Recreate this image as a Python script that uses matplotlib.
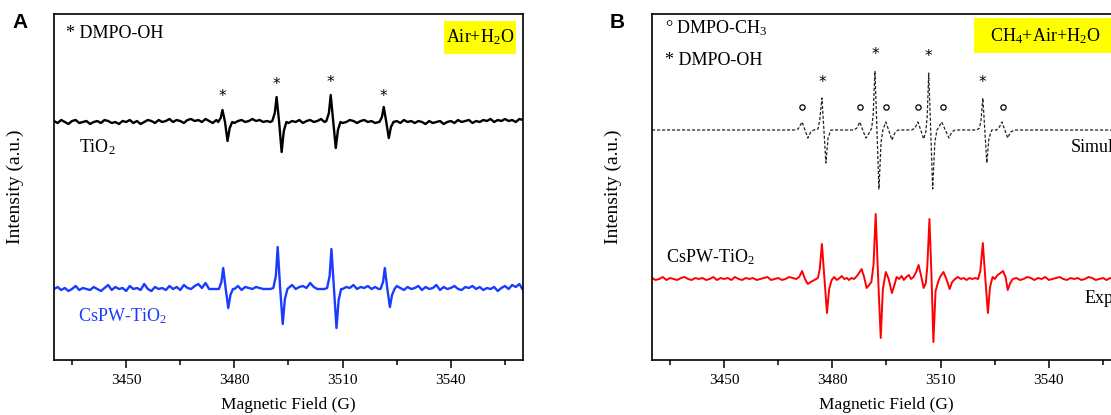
import numpy as np
import matplotlib
matplotlib.use("Agg")
import matplotlib.pyplot as plt
from matplotlib.patches import Rectangle

plt.rcParams['font.family'] = ['Liberation Serif', 'DejaVu Serif']
plt.rcParams['mathtext.fontset'] = 'custom'
plt.rcParams['mathtext.rm'] = 'Liberation Serif'
plt.rcParams['mathtext.it'] = 'Liberation Serif:italic'

# ---------------- data (intensity in a.u., relative to each trace's baseline) ----------------
field_grid = np.arange(3430, 3561)  # 1 G sampling of the baseline noise

# panel A, TiO2 (black)
tio2_noise = [
    1, -1, 2, 0, -2, 1, 2, -1, 0, 1,
    -2, 0, 1, -1, 2, 1, -1, 0, -2, 1,
    0, 2, -1, 1, -2, 0, 2, 1, -1, 2,
    0, 1, 3, 0, 2, 1, -1, 2, 3, 1,
    2, 0, 3, 1, -1, 2, 0, 0, 0, 0,
    -1, 1, 2, 0, 1, 3, 1, 2, 0, 1,
    0, 0, 0, 0, 0, -1, 1, 0, 2, -1,
    1, 2, 0, 1, 3, 0, 0, 0, 0, 0,
    -1, 0, 2, 1, -1, 1, 2, 0, 1, -1,
    0, 0, 0, 0, 0, 1, -1, 2, 0, 1,
    -1, 1, 0, -2, 1, -1, 0, 1, -2, 0,
    1, -1, 2, 0, 1, 2, -1, 1, 0, 2,
    1, 3, 0, 2, 1, 3, 1, 2, 0, 3,
    2]
tio2_peak_field = [3475.5, 3476.2, 3476.7, 3477.4, 3478.1, 3478.7, 3479.4,
                   3490.5, 3491.2, 3491.7, 3492.4, 3493.1, 3493.7, 3494.4,
                   3505.5, 3506.2, 3506.7, 3507.4, 3508.1, 3508.7, 3509.4,
                   3520.2, 3520.9, 3521.4, 3522.1, 3522.8, 3523.4, 3524.1]
tio2_peak_int = [0, 4, 12, 0, -19, -6, 0,
                 1, 9, 25, 0, -30, -9, 0,
                 1, 9, 27, 0, -26, -8, 0,
                 0, 5, 15, 0, -16, -5, 0]

# panel A, CsPW-TiO2 (blue)
cspw_a_noise = [
    0, 2, -1, 1, -2, 0, 3, -1, 1, 0,
    -1, 2, 0, -2, 1, 4, -1, 2, 0, 1,
    -2, 3, 0, 1, -1, 5, 0, -2, 2, 0,
    1, -1, 3, 0, 2, -1, 4, 1, 0, 3,
    5, 1, 6, 0, 0, 0, 0, 0, -2, 2,
    0, 3, -1, 2, 1, 0, 2, 1, 0, 0,
    0, 0, 0, -1, 2, 1, 4, 0, 2, 3,
    1, 6, 2, 0, 0, 0, 0, 0, -2, 1,
    0, 2, 1, 4, 0, 2, 1, 3, 0, 2,
    0, 0, 0, 0, 0, 3, 1, -1, 2, 0,
    1, 3, -1, 2, 0, 1, 4, -1, 2, 0,
    1, 3, 0, -1, 2, 1, 3, 0, 2, -1,
    1, 0, 2, -2, 1, 3, 0, 4, 2, 5,
    -1]
cspw_a_peak_field = [3475.7, 3476.4, 3476.9, 3477.6, 3478.3, 3478.9, 3479.6,
                     3490.8, 3491.5, 3492.0, 3492.7, 3493.4, 3494.0, 3494.7,
                     3505.7, 3506.4, 3506.9, 3507.6, 3508.3, 3508.9, 3509.6,
                     3520.5, 3521.2, 3521.7, 3522.4, 3523.1, 3523.7, 3524.4]
cspw_a_peak_int = [0, 7, 21, 0, -19, -6, 0,
                   1, 13, 42, 0, -35, -10, 0,
                   1, 13, 40, 0, -39, -11, 0,
                   0, 7, 21, 0, -18, -6, 0]

# panel B, simulated spectrum (dashed)
sim_field = [3430, 3469.5, 3470.5, 3471.6, 3472.4, 3473.2, 3474.0, 3474.8,
             3476.0, 3476.5, 3477.1, 3477.65, 3478.2, 3478.8, 3479.6,
             3486.0, 3486.8, 3487.6, 3488.4, 3489.3, 3490.2, 3490.9,
             3491.3, 3491.8, 3492.35, 3492.9, 3493.5, 3494.0, 3494.8,
             3495.6, 3496.5, 3497.3, 3498.2,
             3502.0, 3502.9, 3503.7, 3504.5, 3505.3, 3505.9,
             3506.3, 3506.7, 3507.25, 3507.8, 3508.4, 3509.0, 3510.3,
             3511.3, 3512.3, 3513.1, 3514.0,
             3520.0, 3520.8, 3521.2, 3521.7, 3522.25, 3522.8, 3523.4, 3524.2,
             3525.5, 3526.3, 3527.0, 3527.8, 3528.6, 3529.4, 3530.5, 3560]
sim_int = [0, 0, 1, 8, 0, -8, -2, 0,
           1, 10, 32, 0, -33, -8, 0,
           0, 2, 8, 0, -8, -3, 2,
           15, 59, 0, -59, -12, 0, 8,
           0, -10, -3, 0,
           0, 2, 8, 0, -9, -2,
           15, 57, 0, -59, -12, 0, 8,
           0, -8, -2, 0,
           0, 2, 10, 32, 0, -33, -8, 0,
           0, 3, 8, 0, -8, -2, 0, 0]

# panel B, CsPW-TiO2 experimental (red)
cspw_b_noise = [
    1, -1, 0, 2, -1, 1, 0, -1, 1, 2,
    0, -1, 1, 0, 1, -1, 0, 2, -1, 1,
    0, 1, -1, 2, 0, -1, 1, 0, 1, -1,
    0, 1, 2, -1, 0, 1, -1, 0, 2, 1,
    0, 0, 0, 0, 0, 0, 0, 0, 0, 0,   # 3470-3529 covered by the peak block
    0, 0, 0, 0, 0, 0, 0, 0, 0, 0,
    0, 0, 0, 0, 0, 0, 0, 0, 0, 0,
    0, 0, 0, 0, 0, 0, 0, 0, 0, 0,
    0, 0, 0, 0, 0, 0, 0, 0, 0, 0,
    0, 0, 0, 0, 0, 0, 0, 0, 0, 0,
    0, 1, -1, 0, 2, 1, -1, 1, 0, 2,
    -1, 0, 1, 2, 0, -1, 1, 0, 1, -1,
    0, 2, 1, -1, 0, 1, -1, 1, 0, 1,
    -1]
cspw_b_peak_field = [3470.0, 3470.8, 3471.6, 3472.4, 3473.2, 3474.0, 3475.0,
                     3476.0, 3476.5, 3477.1, 3477.8, 3478.5, 3479.1, 3479.8,
                     3480.5, 3481.2, 3482.0, 3482.6, 3483.3, 3484.0, 3484.6,
                     3485.3, 3486.0, 3486.8, 3487.4, 3488.1, 3488.8, 3489.5,
                     3490.2, 3490.8, 3491.4, 3492.0, 3492.7, 3493.4, 3494.0,
                     3494.8, 3495.6, 3496.5, 3497.2, 3497.8, 3498.5, 3499.2,
                     3499.8, 3500.5, 3501.2, 3501.8, 3502.5, 3503.2, 3503.9,
                     3504.6, 3505.3, 3505.9, 3506.3, 3506.9, 3507.5, 3508.0,
                     3508.6, 3509.4, 3510.0, 3510.8, 3511.6, 3512.5, 3513.2,
                     3514.0, 3514.8, 3515.6, 3516.4, 3517.2, 3518.0, 3518.8,
                     3519.6, 3520.4, 3521.0, 3521.7, 3522.4, 3523.1, 3523.7,
                     3524.4, 3525.0, 3525.8, 3526.6, 3527.3, 3528.0, 3528.6,
                     3529.3, 3530.0]
cspw_b_peak_int = [0, 2, 8, 0, -5, -3, -1,
                   1, 10, 35, 0, -34, -10, -1,
                   2, -1, 1, 3, 0, 1, -1,
                   1, 0, 3, 6, 10, 2, -9,
                   -6, -3, 14, 65, 0, -59, -10,
                   7, 0, -14, -6, 2, 0, 3,
                   -1, 2, 4, 0, 2, 7, 14,
                   3, -9, -4, 12, 60, 0, -63,
                   -12, -2, 3, 7, 0, -10, -3,
                   0, 2, 0, 1, -1, 1, 0,
                   1, 0, 8, 36, 0, -34, -8,
                   2, 0, 4, 6, 8, 2, -11,
                   -4, 0]

# marker positions (field, height on plot scale)
a_star_field = [3476.7, 3491.7, 3506.7, 3521.4]
a_star_y = [264, 276, 277, 264]
b_star_field = [3477.1, 3491.8, 3506.7, 3521.7]
b_star_y = [278, 305, 303, 277]
b_circle_field = [3471.6, 3487.6, 3494.8, 3503.7, 3510.6, 3527.2]
b_circle_y = [253, 253, 253, 253, 253, 253]

# vertical offsets of the stacked traces
offset_tio2, offset_cspw_a = 238, 71
offset_sim, offset_cspw_b = 230, 81


def build(noise, seg_f, seg_i):
    seg_f = np.asarray(seg_f, float)
    seg_i = np.asarray(seg_i, float)
    noise = np.asarray(noise, float)
    gaps = np.where(np.diff(seg_f) > 3)[0]
    starts = np.r_[seg_f[0], seg_f[gaps + 1]]
    ends = np.r_[seg_f[gaps], seg_f[-1]]
    keep = np.ones(len(field_grid), bool)
    for s, e in zip(starts, ends):
        keep &= ~((field_grid >= s) & (field_grid <= e))
    x = np.r_[field_grid[keep], seg_f]
    y = np.r_[noise[keep], seg_i]
    order = np.argsort(x)
    return x[order], y[order]


fig = plt.figure(figsize=(11.11, 4.15), dpi=100)
W, H = 1111, 415
axA = fig.add_axes([54 / W, 55 / H, 469 / W, 346 / H])
axB = fig.add_axes([652 / W, 55 / H, 469 / W, 346 / H])

for ax in (axA, axB):
    ax.set_xlim(3430, 3560)
    ax.set_ylim(0, 346)
    ax.set_xticks([3450, 3480, 3510, 3540])
    ax.set_xticks([3435, 3465, 3495, 3525, 3555], minor=True)
    ax.set_yticks([])
    ax.tick_params(axis='x', which='major', direction='out', length=6, width=1.1,
                   labelsize=11, pad=4)
    ax.tick_params(axis='x', which='minor', direction='out', length=3.5, width=1.1)
    for sp in ax.spines.values():
        sp.set_linewidth(1.2)
    ax.set_xlabel('Magnetic Field (G)', fontsize=12.5)
    ax.xaxis.set_label_coords(0.5, -0.108)
    ax.set_ylabel('Intensity (a.u.)', fontsize=14)
    ax.yaxis.set_label_coords(-0.064, 0.5)

# ---- panel A ----
x, y = build(tio2_noise, tio2_peak_field, tio2_peak_int)
axA.plot(x, y + offset_tio2, color='black', lw=1.7)
x, y = build(cspw_a_noise, cspw_a_peak_field, cspw_a_peak_int)
axA.plot(x, y + offset_cspw_a, color='#1a3cff', lw=1.7)
for f, yy in zip(a_star_field, a_star_y):
    axA.text(f, yy, '*', ha='center', va='center', fontsize=11, family='DejaVu Sans')

axA.text(0.026, 0.945, '* DMPO-OH', transform=axA.transAxes, ha='left', va='center', fontsize=13)
axA.text(0.053, 0.616, 'TiO$_\\mathregular{2}$', transform=axA.transAxes, ha='left', va='center', fontsize=13)
axA.text(0.051, 0.127, 'CsPW-TiO$_\\mathregular{2}$', transform=axA.transAxes, ha='left', va='center',
         fontsize=13, color='#1a3cff')
axA.add_patch(Rectangle((0.832, 0.884), 0.154, 0.095, transform=axA.transAxes,
                        facecolor='#ffff00', edgecolor='none', zorder=3))
axA.text(0.908, 0.932, 'Air+H$_\\mathregular{2}$O', transform=axA.transAxes, ha='center', va='center',
         fontsize=13, zorder=4)

# ---- panel B ----
axB.plot(sim_field, np.asarray(sim_int) + offset_sim, color='#222222', lw=0.9,
         linestyle=(0, (2.5, 1.5)))
x, y = build(cspw_b_noise, cspw_b_peak_field, cspw_b_peak_int)
axB.plot(x, y + offset_cspw_b, color='#ff0000', lw=1.4)
for f, yy in zip(b_star_field, b_star_y):
    axB.text(f, yy, '*', ha='center', va='center', fontsize=11, family='DejaVu Sans')
axB.plot(b_circle_field, b_circle_y, 'o', mfc='none', mec='black', ms=3.8, mew=0.9)

axB.text(0.028, 0.958, '\u00b0 DMPO-CH$_\\mathregular{3}$', transform=axB.transAxes, ha='left', va='center', fontsize=13)
axB.text(0.028, 0.867, '* DMPO-OH', transform=axB.transAxes, ha='left', va='center', fontsize=13)
axB.text(0.030, 0.298, 'CsPW-TiO$_\\mathregular{2}$', transform=axB.transAxes, ha='left', va='center', fontsize=13)
axB.text(0.893, 0.613, 'Simulated', transform=axB.transAxes, ha='left', va='center', fontsize=13)
axB.text(0.923, 0.179, 'Experimental', transform=axB.transAxes, ha='left', va='center', fontsize=13)
axB.add_patch(Rectangle((0.687, 0.887), 0.303, 0.101, transform=axB.transAxes,
                        facecolor='#ffff00', edgecolor='none', zorder=3))
axB.text(0.838, 0.937, 'CH$_\\mathregular{4}$+Air+H$_\\mathregular{2}$O', transform=axB.transAxes,
         ha='center', va='center', fontsize=13, zorder=4)

fig.text(20 / W, 1 - 22 / H, 'A', ha='center', va='center', fontsize=15, fontweight='bold',
         family='Liberation Sans')
fig.text(617 / W, 1 - 22 / H, 'B', ha='center', va='center', fontsize=15, fontweight='bold',
         family='Liberation Sans')

fig.savefig('out.png', dpi=100)
